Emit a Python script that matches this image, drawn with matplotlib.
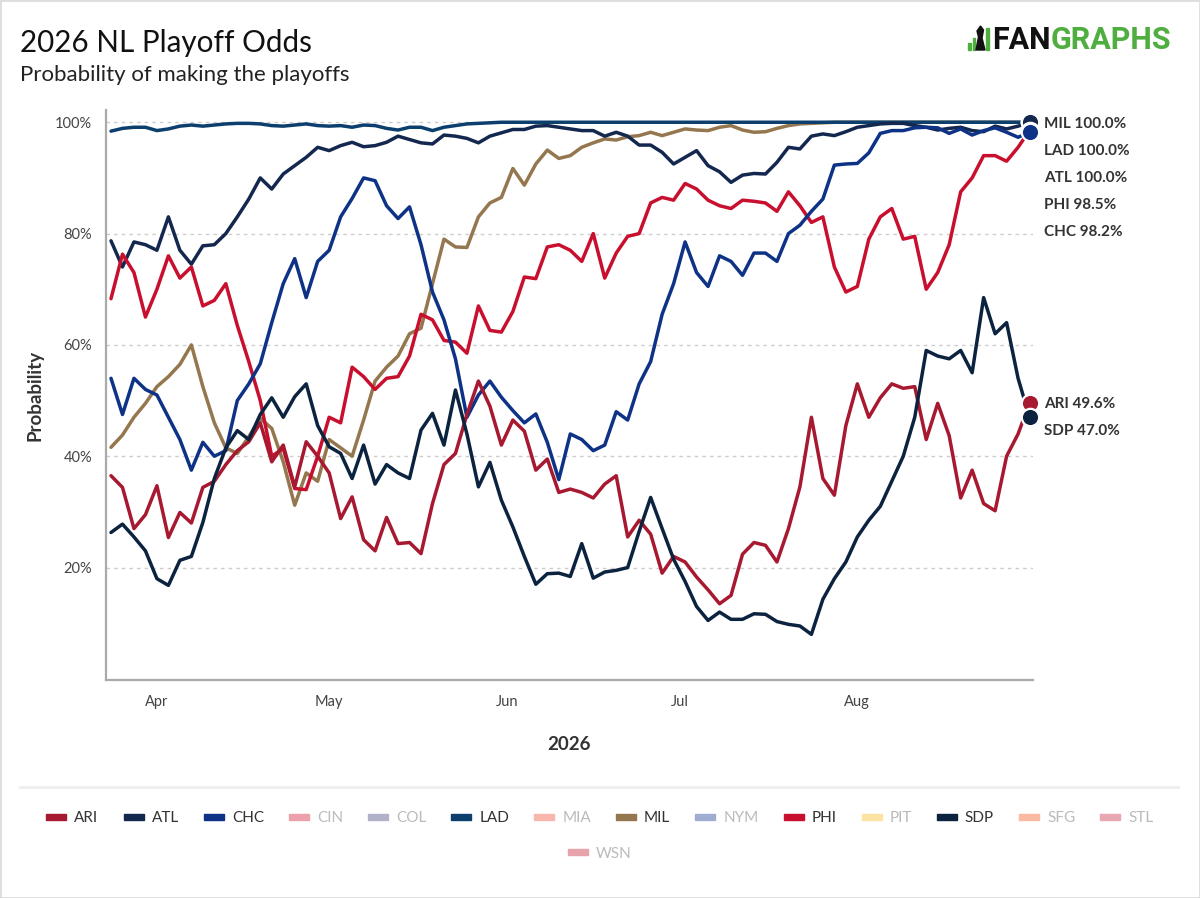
import numpy as np
import matplotlib
matplotlib.use("Agg")
import matplotlib.pyplot as plt
import matplotlib.dates as mdates
from matplotlib.patches import Rectangle, Polygon
from matplotlib.lines import Line2D

plt.rcParams["font.family"] = ["Lato", "DejaVu Sans"]

# ---------------- data ----------------
start_date = "2026-03-24"
end_date = "2026-08-31"
step_days = 2

ARI = [36.5, 34.4, 27.0, 29.5, 34.7, 25.4, 29.9, 28.0, 34.4, 35.5,
       38.5, 41.0, 42.6, 46.0, 39.0, 42.0, 34.5, 42.6, 40.0, 37.0,
       28.8, 32.7, 25.0, 23.0, 29.0, 24.3, 24.5, 22.5, 31.5, 38.5,
       40.5, 47.5, 53.5, 49.0, 42.0, 46.5, 44.5, 37.5, 39.5, 33.5,
       34.1, 33.5, 32.5, 35.0, 36.5, 25.5, 28.5, 26.0, 19.0, 22.0,
       21.0, 18.3, 16.0, 13.5, 15.0, 22.4, 24.5, 24.0, 21.0, 27.0,
       34.5, 47.0, 36.0, 33.0, 45.5, 53.0, 47.0, 50.5, 53.0, 52.2,
       52.5, 43.0, 49.5, 43.7, 32.5, 37.5, 31.5, 30.2, 40.0, 44.0,
       49.6]

ATL = [78.7, 74.0, 78.5, 78.0, 77.0, 83.0, 77.0, 74.5, 77.8, 78.0,
       80.0, 83.0, 86.2, 90.0, 88.0, 90.7, 92.2, 93.7, 95.5, 94.9,
       95.8, 96.4, 95.6, 95.8, 96.4, 97.5, 96.9, 96.3, 96.1, 97.7,
       97.5, 97.1, 96.3, 97.5, 98.1, 98.7, 98.7, 99.3, 99.4, 99.1,
       98.8, 98.5, 98.5, 97.5, 98.2, 97.5, 95.9, 95.9, 94.6, 92.5,
       93.7, 94.9, 92.2, 91.1, 89.2, 90.5, 90.8, 90.7, 92.8, 95.5,
       95.2, 97.5, 97.9, 97.6, 98.3, 99.1, 99.4, 99.7, 99.8, 99.8,
       99.4, 99.1, 98.6, 98.9, 99.1, 98.5, 98.3, 99.3, 98.8, 99.3,
       100.0]

CHC = [54.0, 47.5, 54.0, 52.0, 51.0, 47.0, 43.0, 37.5, 42.5, 40.0,
       41.0, 50.0, 53.0, 56.6, 64.0, 71.0, 75.5, 68.5, 75.0, 77.0,
       83.0, 86.3, 90.0, 89.5, 85.0, 82.7, 84.8, 78.0, 69.5, 64.5,
       57.5, 47.0, 51.0, 53.5, 50.6, 48.2, 46.0, 47.6, 42.5, 35.8,
       44.0, 43.0, 41.0, 42.0, 48.0, 46.5, 53.0, 57.0, 65.5, 71.0,
       78.5, 73.0, 70.5, 76.0, 75.0, 72.5, 76.5, 76.5, 75.0, 80.0,
       81.5, 84.0, 86.2, 92.3, 92.5, 92.6, 94.5, 98.0, 98.5, 98.5,
       99.0, 99.1, 99.0, 98.0, 98.8, 97.7, 98.5, 99.0, 98.2, 97.3,
       98.2]

LAD = [98.4, 98.9, 99.1, 99.1, 98.5, 98.8, 99.3, 99.5, 99.3, 99.5,
       99.7, 99.8, 99.8, 99.7, 99.4, 99.3, 99.5, 99.7, 99.4, 99.3,
       99.4, 99.1, 99.5, 99.4, 98.9, 98.6, 99.1, 99.1, 98.5, 99.1,
       99.4, 99.7, 99.8, 99.9, 100.0, 100.0, 100.0, 100.0, 100.0, 100.0,
       100.0, 100.0, 100.0, 100.0, 100.0, 100.0, 100.0, 100.0, 100.0, 100.0,
       100.0, 100.0, 100.0, 100.0, 100.0, 100.0, 100.0, 100.0, 100.0, 100.0,
       100.0, 100.0, 100.0, 100.0, 100.0, 100.0, 100.0, 100.0, 100.0, 100.0,
       100.0, 100.0, 100.0, 100.0, 100.0, 100.0, 100.0, 100.0, 100.0, 100.0,
       100.0]

MIL = [41.6, 43.8, 47.0, 49.5, 52.5, 54.3, 56.5, 60.0, 52.5, 46.0,
       41.5, 40.5, 43.5, 46.8, 45.0, 39.0, 31.2, 37.0, 35.5, 43.0,
       41.5, 40.0, 46.5, 53.5, 56.0, 58.0, 62.0, 63.0, 71.0, 79.0,
       77.6, 77.5, 83.0, 85.5, 86.5, 91.7, 88.7, 92.5, 95.0, 93.5,
       94.0, 95.5, 96.3, 97.0, 96.8, 97.4, 97.6, 98.2, 97.6, 98.2,
       98.8, 98.6, 98.5, 99.1, 99.4, 98.6, 98.2, 98.3, 98.9, 99.4,
       99.7, 99.8, 99.9, 100.0, 100.0, 100.0, 100.0, 100.0, 100.0, 100.0,
       100.0, 100.0, 100.0, 100.0, 100.0, 100.0, 100.0, 100.0, 100.0, 100.0,
       100.0]

PHI = [68.3, 76.3, 73.0, 65.0, 70.0, 76.0, 72.0, 74.0, 67.0, 68.0,
       71.0, 63.5, 57.0, 50.0, 40.0, 41.4, 34.2, 34.0, 40.0, 47.0,
       46.0, 56.0, 54.3, 52.0, 54.0, 54.3, 58.0, 65.5, 64.5, 60.8,
       60.5, 58.5, 67.0, 62.6, 62.3, 66.0, 72.2, 71.9, 77.6, 78.0,
       77.0, 75.0, 80.0, 72.0, 76.5, 79.5, 80.0, 85.5, 86.5, 86.0,
       89.0, 88.0, 86.0, 85.0, 84.5, 86.0, 85.8, 85.5, 84.0, 87.5,
       85.0, 82.0, 83.0, 74.0, 69.5, 70.5, 79.0, 83.0, 84.5, 79.0,
       79.5, 70.0, 73.0, 78.0, 87.5, 90.0, 94.0, 94.0, 93.0, 95.5,
       98.5]

SDP = [26.3, 27.8, 25.5, 23.0, 18.0, 16.8, 21.3, 22.0, 28.1, 36.0,
       41.5, 44.6, 43.0, 47.5, 50.5, 47.0, 50.7, 53.0, 45.5, 41.7,
       40.5, 36.0, 42.0, 35.0, 38.5, 37.0, 36.0, 44.7, 47.7, 42.0,
       51.9, 44.0, 34.5, 38.9, 32.1, 27.3, 22.0, 17.0, 18.9, 19.0,
       18.4, 24.3, 18.1, 19.2, 19.5, 20.0, 26.5, 32.6, 27.0, 21.5,
       17.5, 13.0, 10.5, 12.0, 10.7, 10.7, 11.7, 11.6, 10.3, 9.8,
       9.5, 8.0, 14.3, 18.0, 21.0, 25.5, 28.5, 31.0, 35.5, 40.0,
       47.0, 59.0, 58.0, 57.5, 59.0, 55.0, 68.5, 62.0, 64.0, 54.0,
       47.0]

teams = ["ARI", "ATL", "CHC", "LAD", "MIL", "PHI", "SDP"]
team_values = [ARI, ATL, CHC, LAD, MIL, PHI, SDP]
team_colors = ["#A71930", "#13274F", "#0E3386", "#0C3F6E", "#94774E", "#C8102E", "#0C2340"]
# order of the end labels (as in the reference, highest first)
label_order = ["MIL", "LAD", "ATL", "PHI", "CHC", "ARI", "SDP"]

legend_teams = ["ARI", "ATL", "CHC", "CIN", "COL", "LAD", "MIA", "MIL",
                "NYM", "PHI", "PIT", "SDP", "SFG", "STL", "WSN"]
legend_colors = ["#A71930", "#13274F", "#0E3386", "#EBA0AB", "#B1B1C9", "#0C3F6E",
                 "#F9B6AC", "#94774E", "#9FAED0", "#C8102E", "#FCE3A2", "#0C2340",
                 "#FBB9A1", "#E9A7B1", "#E8A2AC"]
legend_active = [True, True, True, False, False, True, False, True,
                 False, True, False, True, False, False, False]

y_ticks = [20, 40, 60, 80, 100]
tick_months = [4, 5, 6, 7, 8]

title = "2026 NL Playoff Odds"
subtitle = "Probability of making the playoffs"
x_label = "2026"
y_label = "Probability"

# ---------------- figure ----------------
W, H = 1200, 898
fig = plt.figure(figsize=(W / 100, H / 100), dpi=100)
fig.patch.set_facecolor("white")


def fx(px):
    return px / W


def fy(py):
    return 1 - py / H


AX_L, AX_R, AX_T, AX_B = 106, 1033, 110, 680
ax = fig.add_axes([fx(AX_L), fy(AX_B), fx(AX_R) - fx(AX_L), fy(AX_T) - fy(AX_B)])

dates = np.arange(np.datetime64(start_date), np.datetime64(end_date) + np.timedelta64(1, "D"),
                  np.timedelta64(step_days, "D"))
d0 = mdates.date2num(np.datetime64(start_date))
x_last = mdates.date2num(dates[-1])

YMIN, YMAX = -0.2, 102.2
ax.set_ylim(YMIN, YMAX)
ax.set_xlim(d0 - 0.87, d0 + 160.6)

# grid
ax.set_yticks(y_ticks)
ax.set_yticklabels([f"{v}%" for v in y_ticks])
ax.yaxis.grid(True, linestyle=(0, (2.5, 3)), color="#cccccc", linewidth=1.0)
ax.xaxis.grid(False)
ax.set_axisbelow(True)

ax.xaxis.set_major_locator(mdates.MonthLocator(bymonth=tick_months))
ax.xaxis.set_major_formatter(mdates.DateFormatter("%b"))
ax.tick_params(axis="both", length=0, labelsize=10.5, colors="#444444")
ax.tick_params(axis="y", pad=10)
ax.tick_params(axis="x", pad=11)

for s in ["top", "right"]:
    ax.spines[s].set_visible(False)
for s in ["left", "bottom"]:
    ax.spines[s].set_color("#aaaaaa")
    ax.spines[s].set_linewidth(1.6)

order = [teams.index(t) for t in label_order]

for z, i in enumerate(order):
    ax.plot(dates, team_values[i], color=team_colors[i], lw=2.5,
            solid_joinstyle="round", solid_capstyle="round", zorder=3 + z)

for z, i in enumerate(order):
    ax.plot([dates[-1]], [team_values[i][-1]], marker="o", ms=12.5,
            mfc=team_colors[i], mec="white", mew=1.6, clip_on=False, zorder=20 + z)

# end labels with collision avoidance
ppu = (AX_B - AX_T) / (YMAX - YMIN)
gap = 27 / ppu
prev = None
for i in order:
    v = team_values[i][-1]
    y = v if prev is None else min(v, prev - gap)
    prev = y
    ax.annotate(f"{teams[i]} {v:.1f}%", xy=(x_last, y), xytext=(10.5, -1.2),
                textcoords="offset points", ha="left", va="center",
                fontsize=11, fontweight="bold", color="#333333",
                annotation_clip=False, zorder=40)

# axis titles
fig.text(fx((AX_L + AX_R) / 2), fy(745), x_label, ha="center", va="center",
         fontsize=13.5, fontweight="bold", color="#333333")
fig.text(fx(35), fy((AX_T + AX_B) / 2), y_label, ha="center", va="center",
         rotation=90, fontsize=13.5, fontweight="bold", color="#333333")

# titles
fig.text(fx(20), fy(52), title, ha="left", va="baseline", fontsize=21.3, color="#111111")
fig.text(fx(20), fy(81), subtitle, ha="left", va="baseline", fontsize=16, color="#222222")

renderer = fig.canvas.get_renderer()

# logo
t1 = fig.text(fx(992), fy(49), "FAN", ha="left", va="baseline", fontsize=22,
              fontfamily=["Roboto", "DejaVu Sans"], fontweight="bold", color="#111111")
w1 = t1.get_window_extent(renderer).width
fig.text(fx(992 + w1), fy(49), "GRAPHS", ha="left", va="baseline", fontsize=22,
         fontfamily=["Roboto", "DejaVu Sans"], fontweight="bold", color="#4FAE3F")
for bx, bh in [(968, 7), (972.5, 12), (986, 22)]:
    fig.patches.append(Rectangle((fx(bx), fy(50)), 3 / W, bh / H,
                                 transform=fig.transFigure, color="#4FAE3F"))
fig.patches.append(Polygon([(fx(976), fy(50)), (fx(978.5), fy(37)), (fx(977), fy(31)),
                            (fx(980.5), fy(26)), (fx(983.5), fy(30)), (fx(982), fy(38)),
                            (fx(985), fy(50))],
                           closed=True, transform=fig.transFigure, color="#111111"))

# separator and border
fig.lines.append(Line2D([fx(20), fx(1178)], [fy(787), fy(787)], transform=fig.transFigure,
                        color="#eeeeee", lw=2))
fig.patches.append(Rectangle((0, 0), 1, 1, transform=fig.transFigure, fill=False,
                             edgecolor="#dddddd", lw=2))

# legend (centered rows, wrapped)
sw_w, sw_h, sw_gap, item_gap, max_w = 20, 6.5, 8, 25, 1160
fs = 11
items = []
for name, col, act in zip(legend_teams, legend_colors, legend_active):
    t = fig.text(0, 0, name, fontsize=fs, color=("#333333" if act else "#bbbbbb"),
                 ha="left", va="baseline")
    w = t.get_window_extent(renderer).width
    items.append((t, col, w))

rows, cur, cur_w = [], [], 0
for it in items:
    iw = sw_w + sw_gap + it[2]
    add = iw if not cur else item_gap + iw
    if cur and cur_w + add > max_w:
        rows.append((cur, cur_w))
        cur, cur_w = [it], iw
    else:
        cur.append(it)
        cur_w += add
rows.append((cur, cur_w))

row_y = [817, 852]
for (row, rw), cy in zip(rows, row_y):
    x = W / 2 - rw / 2
    for t, col, w in row:
        fig.patches.append(Rectangle((fx(x), fy(cy + sw_h / 2)), sw_w / W, sw_h / H,
                                     transform=fig.transFigure, color=col))
        t.set_position((fx(x + sw_w + sw_gap), fy(cy + 5.5)))
        x += sw_w + sw_gap + w + item_gap

fig.savefig("out.png", dpi=100, facecolor="white")
